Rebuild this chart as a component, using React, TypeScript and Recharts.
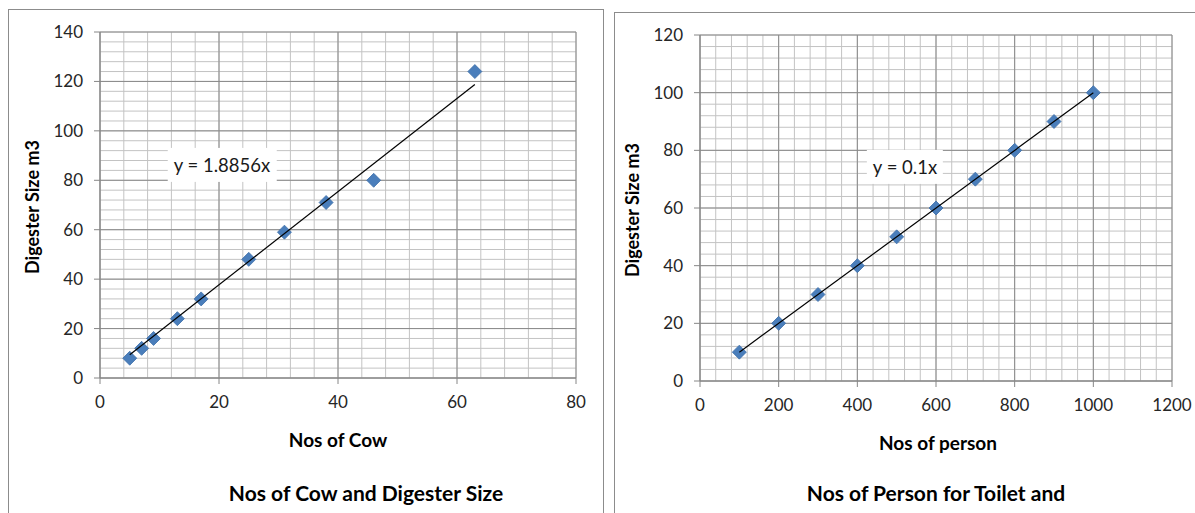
import React from "react";
import { ScatterChart, Scatter, XAxis, YAxis, CartesianGrid } from "recharts";

const cowCount = [5, 7, 9, 13, 17, 25, 31, 38, 46, 63];
const cowDigester = [8, 12, 16, 24, 32, 48, 59, 71, 80, 124];
const cowXTicks = [0, 20, 40, 60, 80];
const cowYTicks = [0, 20, 40, 60, 80, 100, 120, 140];
const cowSlope = 1.8856;

const personCount = [100, 200, 300, 400, 500, 600, 700, 800, 900, 1000];
const personDigester = [10, 20, 30, 40, 50, 60, 70, 80, 90, 100];
const personXTicks = [0, 200, 400, 600, 800, 1000, 1200];
const personYTicks = [0, 20, 40, 60, 80, 100, 120];
const personSlope = 0.1;

const FONT = 'Lato, "Open Sans", sans-serif';

const steps = (max: number, step: number) => {
  const out: number[] = [];
  for (let v = 0; v <= max + 1e-9; v += step) out.push(Math.round(v * 1000) / 1000);
  return out;
};

const applyScale = (axis: any, v: number, fallback: (v: number) => number) => {
  const s = axis?.scale;
  if (typeof s === "function") {
    const r = s(v);
    if (typeof r === "number" && !isNaN(r)) return r;
  }
  if (s && typeof s.map === "function") {
    const r = s.map(v);
    if (typeof r === "number" && !isNaN(r)) return r;
  }
  return fallback(v);
};

const Diamond = (props: any) => {
  const { cx, cy } = props;
  if (cx == null || cy == null) return null;
  const r = 7;
  return (
    <polygon
      points={`${cx},${cy - r} ${cx + r},${cy} ${cx},${cy + r} ${cx - r},${cy}`}
      fill="#4a7ebb"
      stroke="#3d6ea8"
      strokeWidth={0.8}
    />
  );
};

const NoShape = () => <g />;

type PanelProps = {
  xs: number[];
  ys: number[];
  xTicks: number[];
  yTicks: number[];
  minorX: number;
  minorY: number;
  slope: number;
  left: number;
  width: number;
  height: number;
  margin: { top: number; right: number; bottom: number; left: number };
};

const Panel = ({ xs, ys, xTicks, yTicks, minorX, minorY, slope, left, width, height, margin }: PanelProps) => {
  const data = xs.map((x, i) => ({ x, y: ys[i] }));
  const xFirst = xs[0];
  const xLast = xs[xs.length - 1];
  const trend = [
    { x: xFirst, y: xFirst * slope },
    { x: xLast, y: xLast * slope },
  ];
  const xMax = xTicks[xTicks.length - 1];
  const yMax = yTicks[yTicks.length - 1];
  const minorXs = steps(xMax, minorX);
  const minorYs = steps(yMax, minorY);
  const tickStyle = { fill: "#262626", fontSize: 17, fontFamily: FONT };
  const vGen = ({ xAxis, offset }: any) =>
    minorXs.map((v) => applyScale(xAxis, v, (t) => offset.left + (t / xMax) * offset.width));
  const hGen = ({ yAxis, offset }: any) =>
    minorYs.map((v) => applyScale(yAxis, v, (t) => offset.top + offset.height - (t / yMax) * offset.height));
  return (
    <div style={{ position: "absolute", left, top: 0 }}>
      <ScatterChart width={width} height={height} margin={margin}>
        <CartesianGrid
          stroke="#c3c3c3"
          strokeWidth={1}
          verticalCoordinatesGenerator={vGen}
          horizontalCoordinatesGenerator={hGen}
        />
        <XAxis
          type="number"
          dataKey="x"
          domain={[0, xMax]}
          ticks={xTicks}
          interval={0}
          height={30}
          axisLine={{ stroke: "#868686" }}
          tickLine={{ stroke: "#868686" }}
          tickSize={6}
          tickMargin={12}
          tick={tickStyle}
        />
        <YAxis
          type="number"
          dataKey="y"
          domain={[0, yMax]}
          ticks={yTicks}
          interval={0}
          width={60}
          axisLine={{ stroke: "#868686" }}
          tickLine={{ stroke: "#868686" }}
          tickSize={6}
          tickMargin={11}
          tick={tickStyle}
        />
        <CartesianGrid stroke="#8a8a8a" strokeWidth={1} />
        <Scatter data={data} shape={Diamond} isAnimationActive={false} />
        <Scatter data={trend} shape={NoShape} line={{ stroke: "#000", strokeWidth: 1.2 }} isAnimationActive={false} />
      </ScatterChart>
    </div>
  );
};

const Txt = ({ x, y, children, size, bold, rotate, bg }: any) => (
  <div
    style={{
      position: "absolute",
      left: x,
      top: y,
      transform: `translate(-50%, -50%)${rotate ? " rotate(-90deg)" : ""}`,
      whiteSpace: "nowrap",
      fontFamily: FONT,
      fontSize: size,
      fontWeight: bold ? 700 : 400,
      color: bold ? "#000" : "#1a1a1a",
      background: bg ? "#fff" : "transparent",
      padding: bg ? "6px 6px" : 0,
      lineHeight: 1.2,
    }}
  >
    {children}
  </div>
);

export default function App() {
  return (
    <div
      style={{
        position: "absolute",
        left: 0,
        top: 0,
        width: 1195,
        height: 513,
        overflow: "hidden",
        background: "#fff",
      }}
    >
      <div style={{ position: "absolute", left: 8, top: 9, width: 594, height: 600, border: "1px solid #8c8c8c" }} />
      <div style={{ position: "absolute", left: 614, top: 12, width: 700, height: 600, border: "1px solid #8c8c8c" }} />
      <Panel
        xs={cowCount}
        ys={cowDigester}
        xTicks={cowXTicks}
        yTicks={cowYTicks}
        minorX={4}
        minorY={4}
        slope={cowSlope}
        left={0}
        width={600}
        height={420}
        margin={{ top: 32, right: 24, bottom: 12, left: 40 }}
      />
      <Panel
        xs={personCount}
        ys={personDigester}
        xTicks={personXTicks}
        yTicks={personYTicks}
        minorX={40}
        minorY={4}
        slope={personSlope}
        left={600}
        width={595}
        height={423}
        margin={{ top: 35, right: 23, bottom: 12, left: 40 }}
      />
      <Txt x={222} y={165} size={18.5} bg>y = 1.8856x</Txt>
      <Txt x={905} y={167} size={18.5} bg>y = 0.1x</Txt>
      <Txt x={33} y={207} size={18} bold rotate>Digester Size m3</Txt>
      <Txt x={633} y={210} size={18} bold rotate>Digester Size m3</Txt>
      <Txt x={338} y={440} size={19} bold>Nos of Cow</Txt>
      <Txt x={938} y={443} size={19} bold>Nos of person</Txt>
      <Txt x={366} y={493} size={21} bold>Nos of Cow and Digester Size</Txt>
      <Txt x={936} y={493} size={21} bold>Nos of Person for Toilet and</Txt>
    </div>
  );
}
